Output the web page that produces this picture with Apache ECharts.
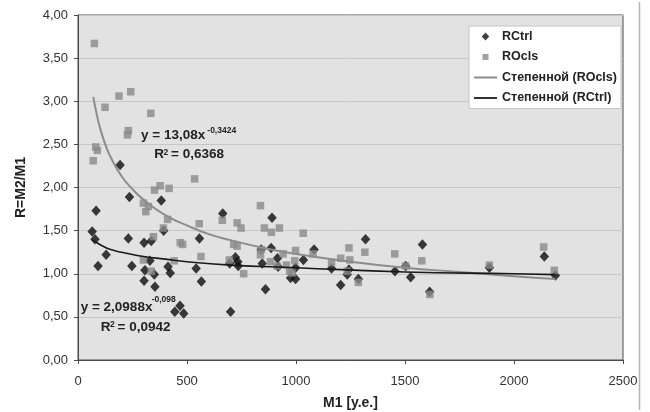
<!DOCTYPE html>
<html><head><meta charset="utf-8">
<script src="https://cdn.jsdelivr.net/npm/echarts@6/dist/echarts.min.js"></script>
<style>html,body{margin:0;padding:0;background:#fff}#c{width:650px;height:412px}</style>
</head><body><div id="c"></div>
<script>
// RCtrl observations [M1, R]
const rctrlData = [
  [193,2.26],[236,1.89],[382,1.85],[83,1.73],[65,1.49],[78,1.40],[231,1.41],[303,1.36],[336,1.38],[393,1.50],
  [129,1.22],[92,1.09],[247,1.09],[330,1.15],[307,1.04],[350,0.99],[303,0.92],[353,0.85],[413,1.08],[423,1.01],
  [542,1.06],[468,0.63],[444,0.56],[485,0.54],[664,1.70],[890,1.65],[557,1.41],[566,0.91],[696,1.12],[722,1.19],
  [733,1.14],[735,1.09],[700,0.56],[840,1.28],[845,1.12],[886,1.30],[915,1.18],[918,1.08],[860,0.82],[975,0.95],
  [998,0.94],[998,1.07],[1034,1.16],[1083,1.28],[1163,1.06],[1205,0.87],[1243,1.05],[1235,0.99],[1286,0.94],[1319,1.40],
  [1454,1.03],[1503,1.09],[1526,0.96],[1580,1.34],[1613,0.79],[1887,1.07],[2139,1.20],[2190,0.98]
];
// ROcls observations [M1, R]
const roclsData = [
  [75,3.67],[124,2.93],[188,3.06],[242,3.11],[334,2.86],[231,2.66],[227,2.61],[81,2.47],[89,2.43],[70,2.31],
  [351,1.97],[377,2.02],[418,1.99],[535,2.10],[300,1.82],[323,1.78],[311,1.72],[411,1.63],[392,1.53],[346,1.43],
  [469,1.36],[480,1.34],[300,1.16],[441,1.15],[336,1.03],[837,1.79],[556,1.58],[662,1.62],[730,1.59],[748,1.53],
  [855,1.53],[887,1.48],[924,1.53],[1033,1.47],[564,1.20],[714,1.34],[730,1.32],[694,1.16],[760,1.00],[837,1.22],
  [840,1.28],[883,1.14],[913,1.09],[941,1.23],[998,1.27],[994,1.15],[956,1.10],[971,1.03],[982,1.01],[1078,1.23],
  [1163,1.13],[1205,1.18],[1243,1.30],[1247,1.16],[1235,1.03],[1286,0.90],[1316,1.25],[1453,1.23],[1503,1.09],[1577,1.15],
  [1614,0.76],[1887,1.10],[2136,1.31],[2185,1.04]
];
// Power trendline points as drawn
const trendROcls = [
  [70,3.05],[80,2.92],[100,2.70],[125,2.50],[150,2.35],[200,2.13],[250,1.98],[300,1.86],[400,1.68],[500,1.56],
  [600,1.46],[700,1.39],[850,1.30],[1000,1.23],[1250,1.14],[1500,1.07],[1750,1.02],[2000,0.97],[2190,0.94]
];
const trendRCtrl = [
  [65,1.39],[80,1.37],[100,1.34],[150,1.28],[200,1.25],[300,1.20],[400,1.17],[500,1.14],[700,1.10],
  [1000,1.07],[1500,1.02],[2000,1.00],[2190,0.99]
];
const seriesNames = ['RCtrl','ROcls','Степенной (ROcls)','Степенной (RCtrl)'];
const xAxisRange = {min:0, max:2500, interval:500};
const yAxisRange = {min:0, max:4, interval:0.5};
const eq1 = {main:'y = 13,08x', exp:'-0,3424', r2:'= 0,6368'};
const eq2 = {main:'y = 2,0988x', exp:'-0,098', r2:'= 0,0942'};

const FF = 'Liberation Sans, Arial, sans-serif';
const chart = echarts.init(document.getElementById('c'), null, {renderer:'canvas'});
function txt(x, y, s, size, weight) {
  return {type:'text', x:x, y:y, z:100, style:{text:s, fill:'#222', font:(weight||'bold')+' '+size+'px '+FF, verticalAlign:'middle', align:'left'}};
}
const legendIcons = [
  'path://M0,0M23,8M11.5,0L15.2,4L11.5,8L7.8,4Z',
  'path://M0,0M23,8M8.5,1L14.5,1L14.5,7L8.5,7Z',
  'path://M0,0M23,8M0,3L23,3L23,5L0,5Z',
  'path://M0,0M23,8M0,3.1L23,3.1L23,4.9L0,4.9Z'
];
const legendColors = ['#111','#8a8a8a','#8c8c8c','#1a1a1a'];
chart.setOption({
  animation:false,
  backgroundColor:'#fff',
  grid:{left:78, right:27, top:15, bottom:52, containLabel:false, outerBoundsMode:'none',
    show:true, backgroundColor:'#e2e2e2', borderColor:'#4a4a4a', borderWidth:1},
  legend:{
    orient:'vertical', left:469, top:26, itemWidth:23, itemHeight:8, itemGap:7.5,
    padding:[4,4,4,5], backgroundColor:'#fff', borderColor:'#c4c4c4', borderWidth:1, borderRadius:0,
    textStyle:{fontFamily:FF, fontWeight:'bold', fontSize:12.5, color:'#222'},
    data:seriesNames.map((n,i) => ({name:n, icon:legendIcons[i], itemStyle:{color:legendColors[i], borderWidth:0}}))
  },
  xAxis:{
    type:'value', min:xAxisRange.min, max:xAxisRange.max, interval:xAxisRange.interval,
    name:'M1 [у.е.]', nameLocation:'middle', nameGap:36,
    nameTextStyle:{fontFamily:FF, fontWeight:'bold', fontSize:14, color:'#222'},
    axisLine:{show:true, lineStyle:{color:'#4a4a4a', width:1}},
    axisTick:{show:true, length:4, lineStyle:{color:'#4a4a4a'}},
    axisLabel:{fontFamily:FF, fontSize:13, color:'#333', margin:15, formatter:v => String(v)},
    splitLine:{show:false}
  },
  yAxis:{
    type:'value', min:yAxisRange.min, max:yAxisRange.max, interval:yAxisRange.interval,
    name:'R=M2/M1', nameLocation:'middle', nameGap:50, nameRotate:90,
    nameTextStyle:{fontFamily:FF, fontWeight:'bold', fontSize:14, color:'#222'},
    axisLine:{show:true, lineStyle:{color:'#4a4a4a', width:1}},
    axisTick:{show:true, length:4, lineStyle:{color:'#4a4a4a'}},
    axisLabel:{fontFamily:FF, fontSize:13, color:'#333', margin:10,
      formatter:v => v.toFixed(2).replace('.', ',')},
    splitLine:{show:true, lineStyle:{color:'#c6c6c6', width:1}}
  },
  series:[
    {name:seriesNames[0], type:'scatter', data:rctrlData, symbol:'diamond', symbolSize:[9.5,10.5],
      itemStyle:{color:'#0d0d0d'}, z:3},
    {name:seriesNames[1], type:'scatter', data:roclsData, symbol:'rect', symbolSize:7.5,
      itemStyle:{color:'#8a8a8a'}, z:4},
    {name:seriesNames[2], type:'line', data:trendROcls, symbol:'none', smooth:true,
      lineStyle:{color:'#8c8c8c', width:2}, itemStyle:{color:'#8c8c8c'}, z:5},
    {name:seriesNames[3], type:'line', data:trendRCtrl, symbol:'none', smooth:true,
      lineStyle:{color:'#1a1a1a', width:1.6}, itemStyle:{color:'#1a1a1a'}, z:6}
  ],
  graphic:[
    {type:'line', shape:{x1:639.5, y1:2, x2:639.5, y2:410}, style:{stroke:'#b5b5b5', lineWidth:1.5}},
    txt(141, 135.5, eq1.main, 13.5),
    txt(207.3, 130.8, eq1.exp, 8.5),
    txt(154.3, 154.5, 'R', 13.5),
    txt(163.5, 152.5, '2', 8.5),
    txt(171, 154.5, eq1.r2, 13.5),
    txt(80.7, 307.2, eq2.main, 13.5),
    txt(151.7, 300, eq2.exp, 8.5),
    txt(100.7, 327.2, 'R', 13.5),
    txt(110, 324.5, '2', 8.5),
    txt(117.5, 327.2, eq2.r2, 13.5)
  ]
});
</script></body></html>
